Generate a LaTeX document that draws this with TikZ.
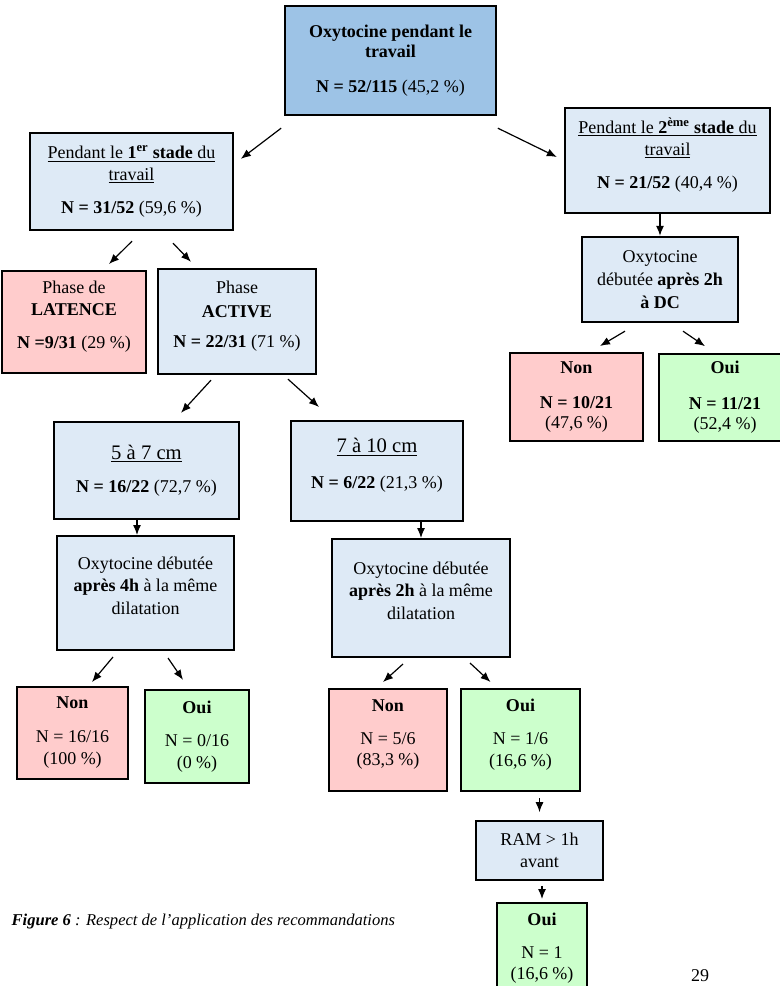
\documentclass[tikz,border=0pt]{standalone}
\usepackage{fontspec}
\setmainfont{Liberation Serif}
\usetikzlibrary{arrows.meta}
\definecolor{topblue}{RGB}{157,195,230}
\definecolor{paleblue}{RGB}{222,234,246}
\definecolor{pink}{RGB}{255,204,204}
\definecolor{mint}{RGB}{204,255,204}
\newcommand\lowpad{\rule[-11pt]{0pt}{11pt}}

\begin{document}
\begin{tikzpicture}[x=0.75pt,y=-0.75pt,>={Latex[length=7.5pt,width=6pt]},
    every node/.style={font=\fontsize{13.5}{15}\selectfont,align=center},
    box/.style={draw,line width=1.5pt,inner sep=2pt},
    arr/.style={->,line width=0.9pt}]
    \useasboundingbox (0,0) rectangle (779,986);
    % first level
    \node[box,fill=topblue,minimum width=158pt,minimum height=82pt](top)at(390.5,60.5){\textbf{Oxytocine pendant le}\\\textbf{travail}\\[11pt]\textbf{N = 52/115} (45,2~\%)};
    \node[box,fill=paleblue,minimum width=152pt,minimum height=73pt](st1)at(131.5,181.5){\underline{Pendant le \textbf{1\textsuperscript{er} stade} du}\\[1pt]\underline{travail}\\[10pt]\textbf{N = 31/52} (59,6~\%)};
    \node[box,fill=paleblue,minimum width=154pt,minimum height=79pt](st2)at(667.5,160.5){\underline{Pendant le \textbf{2\textsuperscript{ème} stade} du}\\[1pt]\underline{travail}\\[10pt]\textbf{N = 21/52} (40,4~\%)\lowpad};
    \draw[arr]([shift={(-3,12)}]top.south west)--([shift={(7,27)}]st1.north east);
    \draw[arr]([shift={(1,12)}]top.south east)--([shift={(-7,-3.5)}]st2.west);
    % second stage
    \node[box,fill=paleblue,minimum width=117pt,minimum height=64pt](dc)at(660,279.5){Oxytocine\\[2pt]débutée \textbf{après 2h}\\[2pt]\textbf{à DC}};
    \draw[arr](dc.north |- st2.south)--(dc.north);
    \node[box,fill=pink,minimum width=100pt,minimum height=66pt](non1)at(576.5,397){\textbf{Non}\\[11pt]\textbf{N = 10/21}\\(47,6~\%)};
    \node[box,fill=mint,minimum width=99pt,minimum height=65pt](oui1)at(725,397.5){\textbf{Oui}\\[12pt]\textbf{N = 11/21}\\(52,4~\%)};
    \draw[arr]([shift={(-35,8)}]dc.south)--([shift={(23.5,-6)}]non1.north);
    \draw[arr]([shift={(23,8)}]dc.south)--([shift={(-20,-7)}]oui1.north);
    % first stage: phases
    \node[box,fill=pink,minimum width=108pt,minimum height=76.5pt](lat)at(74,322){Phase de\\[1.5pt]\textbf{LATENCE}\\[9.5pt]\textbf{N =9/31} (29~\%)\lowpad};
    \node[box,fill=paleblue,minimum width=118.5pt,minimum height=79pt](act)at(237,321.5){Phase\\[3pt]\textbf{ACTIVE}\\[8pt]\textbf{N = 22/31} (71~\%)\lowpad};
    \draw[arr]([shift={(0.5,10)}]st1.south)--([shift={(-38,-6)}]lat.north east);
    \draw[arr]([shift={(41.5,12)}]st1.south)--([shift={(34,-6)}]act.north west);
    % dilatation
    \node[box,fill=paleblue,minimum width=139pt,minimum height=73pt](cm57)at(146.5,470.5){{\fontsize{15.5}{18}\selectfont\underline{5 à 7 cm}}\\[10pt]\textbf{N = 16/22} (72,7~\%)};
    \node[box,fill=paleblue,minimum width=129pt,minimum height=75pt](cm710)at(377,471){{\fontsize{15.5}{18}\selectfont\underline{7 à 10 cm}}\\[12pt]\textbf{N = 6/22} (21,3~\%)\lowpad};
    \draw[arr]([shift={(-26,5)}]act.south)--([shift={(34.5,-8)}]cm57.north);
    \draw[arr]([shift={(51,4)}]act.south)--([shift={(29,-13)}]cm710.north west);
    \node[box,fill=paleblue,minimum width=133pt,minimum height=85.5pt](oxy4)at(145.5,593){Oxytocine débutée\\[2pt]\textbf{après 4h} à la même\\[2pt]dilatation\lowpad};
    \node[box,fill=paleblue,minimum width=133.5pt,minimum height=88.5pt](oxy2)at(421,598){Oxytocine débutée\\[2pt]\textbf{après 2h} à la même\\[2pt]dilatation\lowpad};
    \draw[arr]([shift={(-9.5,0)}]cm57.south)--([shift={(-8.5,0)}]oxy4.north);
    \draw[arr](oxy2.north |- cm710.south)--(oxy2.north);
    % answers
    \node[box,fill=pink,minimum width=83pt,minimum height=69pt](non4)at(72.5,733){\textbf{Non}\\[10pt]N = 16/16\\[2pt](100~\%)};
    \node[box,fill=mint,minimum width=78pt,minimum height=70pt](oui4)at(197,736.5){\textbf{Oui}\\[10pt]N = 0/16\\[1pt](0~\%)};
    \node[box,fill=pink,minimum width=88.5pt,minimum height=76.5pt](non2)at(388,740){\textbf{Non}\\[10pt]N = 5/6\\[1pt](83,3~\%)\lowpad};
    \node[box,fill=mint,minimum width=89pt,minimum height=76.5pt](oui2)at(520.5,740){\textbf{Oui}\\[10pt]N = 1/6\\[1pt](16,6~\%)\lowpad};
    \draw[arr]([shift={(-32.5,6)}]oxy4.south)--([shift={(19.5,-4)}]non4.north);
    \draw[arr]([shift={(22.5,7)}]oxy4.south)--([shift={(-14,-9)}]oui4.north);
    \draw[arr]([shift={(-18,6)}]oxy2.south)--([shift={(-5,-6)}]non2.north);
    \draw[arr]([shift={(49,5)}]oxy2.south)--([shift={(-30,-6)}]oui2.north);
    \node[box,fill=paleblue,minimum width=95pt,minimum height=44pt](ram)at(539.5,850.5){RAM > 1h\\[1.5pt]avant};
    \node[box,fill=mint,minimum width=67.5pt,minimum height=67.5pt](oui3)at(542,948){\textbf{Oui}\\[10pt]N = 1\\[1pt](16,6~\%)};
    \draw[arr,shorten <=4.5pt,shorten >=6pt](ram.north |- oui2.south)--(ram.north);
    \draw[arr,shorten <=3.75pt,shorten >=2.25pt](oui3.north |- ram.south)--(oui3.north);
    % caption and page number
    \node[anchor=west,font=\fontsize{12.4}{15}\selectfont\itshape](cap)at(7,922){\textbf{Figure 6} : Respect de l’application des recommandations};
    \node(page)at(700,976){29};
\end{tikzpicture}
\end{document}
